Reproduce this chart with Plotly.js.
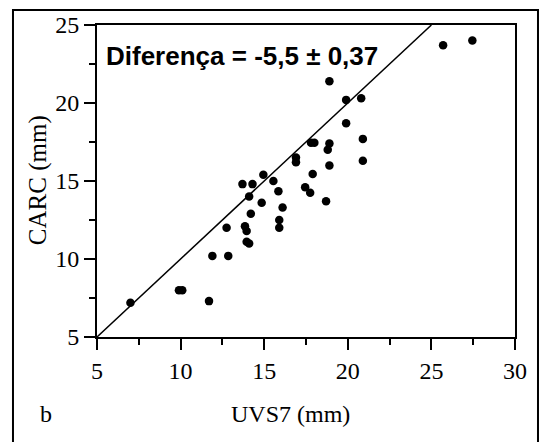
<!DOCTYPE html>
<html>
<head>
<meta charset="utf-8">
<script src="https://cdn.plot.ly/plotly-3.0.1.min.js"></script>
<style>html,body{margin:0;padding:0;background:#fff;}#chart{width:544px;height:442px;}</style>
</head>
<body>
<div id="chart"></div>
<script>
// UVS7 (mm) measurements
const uvs7 = [7.0, 9.9, 10.1, 11.7, 11.9, 12.85, 12.75, 13.85, 13.95, 13.95, 14.1, 14.2, 14.1, 13.7, 14.3,
  14.95, 15.55, 14.85, 15.85, 16.1, 15.9, 15.9, 16.9, 16.9, 17.45, 17.75, 17.9, 18.7, 17.8, 18.0,
  18.9, 18.8, 18.9, 20.9, 20.9, 19.9, 19.9, 20.8, 18.9, 25.7, 27.45];
// CARC (mm) measurements
const carc = [7.2, 8.0, 8.0, 7.3, 10.2, 10.2, 12.0, 12.1, 11.8, 11.1, 11.0, 12.9, 14.0, 14.8, 14.8,
  15.4, 15.0, 13.6, 14.35, 13.3, 12.5, 12.0, 16.5, 16.2, 14.6, 14.25, 15.45, 13.7, 17.45, 17.45,
  17.4, 17.0, 16.0, 16.3, 17.7, 18.7, 20.2, 20.3, 21.4, 23.7, 24.0];
// identity line endpoints
const identityX = [5, 25];
const identityY = [5, 25];
const tickVals = [5, 10, 15, 20, 25, 30];
const yTickVals = [5, 10, 15, 20, 25];

const serif = "'Liberation Serif', 'Times New Roman', serif";

const traces = [
  {x: identityX, y: identityY, mode: 'lines', line: {color: '#000', width: 1.5}, hoverinfo: 'skip', showlegend: false},
  {x: uvs7, y: carc, mode: 'markers', marker: {color: '#000', size: 8.5}, showlegend: false}
];

const axisCommon = {
  showline: true, linecolor: '#000', linewidth: 2, mirror: true,
  ticks: 'outside', ticklen: 11, tickwidth: 2, tickcolor: '#000',
  showgrid: false, zeroline: false,
  tickfont: {family: serif, size: 24, color: '#000'},
  minor: {ticks: 'outside', ticklen: 6, tickwidth: 2, tickcolor: '#000', dtick: 2.5, showgrid: false}
};

const layout = {
  width: 544, height: 442,
  margin: {l: 97, r: 29, t: 25, b: 105},
  paper_bgcolor: '#fff', plot_bgcolor: '#fff',
  xaxis: Object.assign({}, axisCommon, {range: [5, 30], tickvals: tickVals, ticktext: tickVals.map(String)}),
  yaxis: Object.assign({}, axisCommon, {range: [5, 25], tickvals: yTickVals, ticktext: yTickVals.map(String)}),
  shapes: [
    {type: 'rect', xref: 'paper', yref: 'paper', x0: -0.201, x1: 1.055, y0: -0.345, y1: 1.048,
     line: {color: '#000', width: 2}, fillcolor: 'rgba(0,0,0,0)', layer: 'below'}
  ],
  annotations: [
    {xref: 'paper', yref: 'paper', x: 0.017, y: 0.9, xanchor: 'left', yanchor: 'middle', showarrow: false,
     text: 'Diferença = -5,5 ± 0,37', font: {family: "'Liberation Sans', Arial, sans-serif", size: 26, color: '#000', weight: 'bold'}},
    {xref: 'paper', yref: 'paper', x: 0.464, y: -0.247, xanchor: 'center', yanchor: 'middle', showarrow: false,
     text: 'UVS7 (mm)', font: {family: serif, size: 24, color: '#000'}},
    {xref: 'paper', yref: 'paper', x: -0.141, y: 0.503, xanchor: 'center', yanchor: 'middle', showarrow: false, textangle: -90,
     text: 'CARC (mm)', font: {family: serif, size: 25, color: '#000'}},
    {xref: 'paper', yref: 'paper', x: -0.122, y: -0.247, xanchor: 'center', yanchor: 'middle', showarrow: false,
     text: 'b', font: {family: serif, size: 24, color: '#000'}}
  ]
};

Plotly.newPlot('chart', traces, layout, {staticPlot: true, displayModeBar: false});
</script>
</body>
</html>
